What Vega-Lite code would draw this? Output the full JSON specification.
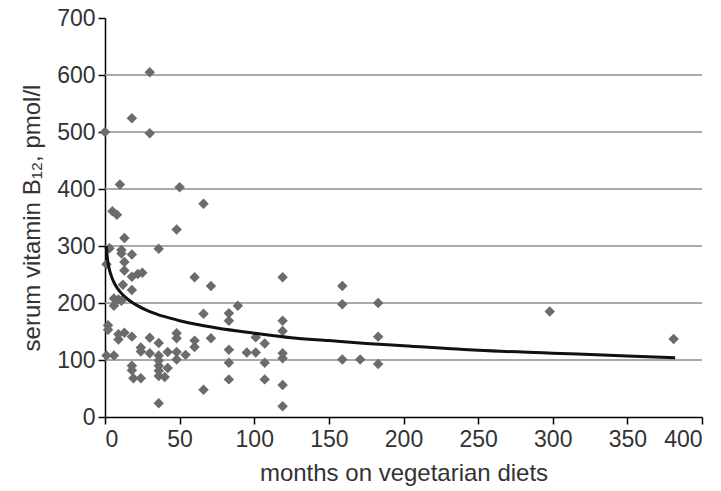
{
  "$schema": "https://vega.github.io/schema/vega-lite/v6.json",
  "width": 597,
  "height": 399,
  "autosize": {"type": "none"},
  "padding": {"left": 105, "top": 18, "right": 19, "bottom": 74},
  "background": "white",
  "config": {
    "view": {"stroke": null},
    "font": "Liberation Sans",
    "axis": {
      "labelFont": "Liberation Sans",
      "titleFont": "Liberation Sans",
      "labelFontSize": 23,
      "titleFontSize": 24,
      "labelColor": "#333333",
      "titleColor": "#333333",
      "titleFontWeight": "normal",
      "domainColor": "#000000",
      "domainWidth": 1.5,
      "tickColor": "#000000",
      "tickWidth": 1.5,
      "tickSize": 7
    }
  },
  "datasets": {
    "grid": [{"v": 100}, {"v": 200}, {"v": 300}, {"v": 400}, {"v": 500}, {"v": 600}],
    "pts": [
      {"months": 30, "b12": 605}, {"months": 0, "b12": 500}, {"months": 18, "b12": 524}, {"months": 30, "b12": 498},
      {"months": 10, "b12": 408}, {"months": 50, "b12": 403}, {"months": 5, "b12": 361}, {"months": 8, "b12": 355},
      {"months": 66, "b12": 374}, {"months": 48, "b12": 329}, {"months": 36, "b12": 295}, {"months": 13, "b12": 314},
      {"months": 3, "b12": 296}, {"months": 11, "b12": 293}, {"months": 11, "b12": 287}, {"months": 18, "b12": 285},
      {"months": 13, "b12": 272}, {"months": 13, "b12": 257}, {"months": 18, "b12": 246}, {"months": 22, "b12": 251},
      {"months": 25, "b12": 253}, {"months": 60, "b12": 245}, {"months": 71, "b12": 230}, {"months": 12, "b12": 232},
      {"months": 18, "b12": 223}, {"months": 1, "b12": 268}, {"months": 6, "b12": 208}, {"months": 9, "b12": 206},
      {"months": 11, "b12": 204}, {"months": 6, "b12": 195},
      {"months": 2, "b12": 161}, {"months": 2, "b12": 153}, {"months": 9, "b12": 145}, {"months": 13, "b12": 148},
      {"months": 9, "b12": 136}, {"months": 18, "b12": 141}, {"months": 30, "b12": 139}, {"months": 36, "b12": 130},
      {"months": 48, "b12": 147}, {"months": 48, "b12": 138}, {"months": 60, "b12": 134}, {"months": 60, "b12": 123},
      {"months": 71, "b12": 138}, {"months": 24, "b12": 122}, {"months": 24, "b12": 115}, {"months": 30, "b12": 112},
      {"months": 36, "b12": 108}, {"months": 36, "b12": 99}, {"months": 36, "b12": 90}, {"months": 36, "b12": 81},
      {"months": 36, "b12": 72}, {"months": 42, "b12": 114}, {"months": 42, "b12": 86}, {"months": 48, "b12": 114},
      {"months": 48, "b12": 101}, {"months": 54, "b12": 109}, {"months": 1, "b12": 108}, {"months": 6, "b12": 108},
      {"months": 18, "b12": 90}, {"months": 18, "b12": 82}, {"months": 19, "b12": 68}, {"months": 24, "b12": 68},
      {"months": 40, "b12": 70}, {"months": 36, "b12": 24}, {"months": 66, "b12": 48},
      {"months": 66, "b12": 181}, {"months": 83, "b12": 182}, {"months": 83, "b12": 169}, {"months": 89, "b12": 195},
      {"months": 119, "b12": 245}, {"months": 119, "b12": 169}, {"months": 119, "b12": 151}, {"months": 101, "b12": 140},
      {"months": 107, "b12": 129}, {"months": 83, "b12": 118}, {"months": 83, "b12": 95}, {"months": 95, "b12": 113},
      {"months": 101, "b12": 113}, {"months": 107, "b12": 95}, {"months": 119, "b12": 112}, {"months": 119, "b12": 103},
      {"months": 83, "b12": 66}, {"months": 107, "b12": 66}, {"months": 119, "b12": 56}, {"months": 119, "b12": 19},
      {"months": 159, "b12": 230}, {"months": 159, "b12": 198}, {"months": 159, "b12": 101}, {"months": 171, "b12": 101},
      {"months": 183, "b12": 200}, {"months": 183, "b12": 141}, {"months": 183, "b12": 93}, {"months": 298, "b12": 185},
      {"months": 381, "b12": 137}
    ],
    "fit": [
      {"months": 0.8, "b12": 300}, {"months": 2, "b12": 271}, {"months": 3, "b12": 258}, {"months": 5, "b12": 242},
      {"months": 7, "b12": 231}, {"months": 10, "b12": 220}, {"months": 15, "b12": 207}, {"months": 20, "b12": 198},
      {"months": 30, "b12": 185}, {"months": 40, "b12": 176}, {"months": 50, "b12": 169}, {"months": 60, "b12": 163},
      {"months": 75, "b12": 156}, {"months": 100, "b12": 147}, {"months": 125, "b12": 139}, {"months": 150, "b12": 134},
      {"months": 175, "b12": 129}, {"months": 200, "b12": 125}, {"months": 250, "b12": 117}, {"months": 300, "b12": 112},
      {"months": 350, "b12": 107}, {"months": 382, "b12": 104}
    ]
  },
  "layer": [
    {
      "data": {"name": "grid"},
      "mark": {"type": "rule", "stroke": "#8c8c8c", "strokeWidth": 1.5, "opacity": 1, "strokeOpacity": 1},
      "encoding": {
        "y": {
          "field": "v", "type": "quantitative",
          "scale": {"domain": [0, 700], "nice": false},
          "axis": {
            "values": [0, 100, 200, 300, 400, 500, 600, 700],
            "grid": false,
            "title": "serum vitamin B₁₂, pmol/l",
            "labelPadding": 3,
            "titlePadding": 12
          }
        }
      }
    },
    {
      "data": {"name": "pts"},
      "mark": {"type": "point", "shape": "diamond", "filled": true, "size": 110, "color": "#6b6b6b", "opacity": 1},
      "encoding": {
        "x": {
          "field": "months", "type": "quantitative",
          "scale": {"domain": [0, 400], "nice": false},
          "axis": {"values": [0, 50, 100, 150, 200, 250, 300, 350, 400], "grid": false, "title": "months on vegetarian diets", "labelPadding": 4, "titlePadding": 10}
        },
        "y": {"field": "b12", "type": "quantitative"}
      }
    },
    {
      "data": {"name": "fit"},
      "mark": {"type": "line", "color": "#111111", "strokeWidth": 3, "interpolate": "monotone"},
      "encoding": {
        "x": {"field": "months", "type": "quantitative"},
        "y": {"field": "b12", "type": "quantitative"}
      }
    }
  ]
}
